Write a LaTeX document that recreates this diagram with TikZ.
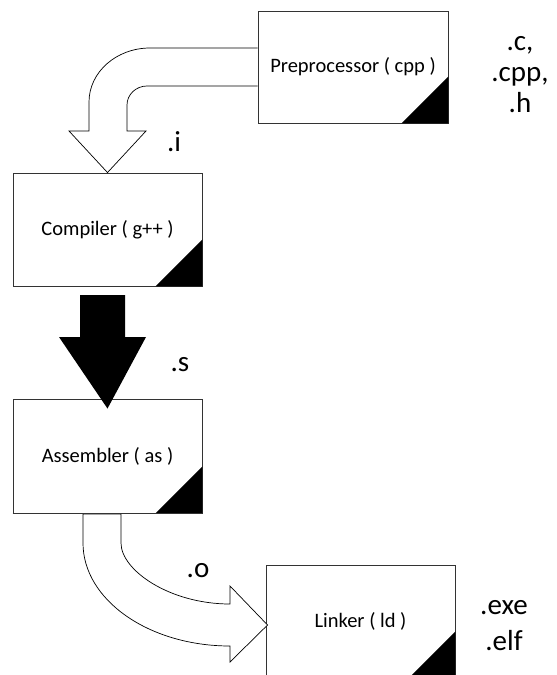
\documentclass[tikz,border=0pt]{standalone}
\usepackage{fontspec}
\setmainfont{Carlito}
\usetikzlibrary{calc}
\begin{document}
\begin{tikzpicture}[x=1pt,y=-1pt,
  stage/.style={draw=black!80,line width=0.9pt,fill=white,minimum width=189pt,minimum height=113pt,inner sep=0pt,font=\fontsize{20.5}{24}\selectfont},
  corner/.style={fill=black},
  hollow/.style={draw=black,line width=0.7pt,fill=white,line join=miter},
  ext/.style={font=\fontsize{29}{33}\selectfont,anchor=base,inner sep=0pt}]
\useasboundingbox (0,0) rectangle (557,675);
% nodes
\node[stage,minimum width=190pt,minimum height=112pt] (pre) at (353,67) {Preprocessor ( cpp )};
\node[stage] (comp) at (107.5,229.5) {Compiler ( g++ )};
\node[stage,minimum height=114pt] (asm) at (107.5,456) {Assembler ( as )};
\node[stage] (link) at (360.5,621.5) {Linker ( ld )};
% corner triangles
\foreach \n in {pre,comp,asm,link}
  \fill[corner] (\n.south east) -- ++(-47,0) -- ++(47,-47) -- cycle;
% arrow pre -> comp (hollow, bent)
\draw[hollow] (pre.west |- 0,48) -- (150,48)
  .. controls (116.3,48) and (89,72.2) .. (89,102) -- (89,131) -- (69,131)
  -- (comp.north) -- (146,131) -- (127,131) -- (127,105)
  .. controls (127,94.5) and (136,86) .. (147,86) -- (pre.west |- 0,86);
% arrow comp -> asm (solid)
\fill[black] (80,295) -- (125,295) -- (125,337) -- (146,337) -- ([yshift=-10pt]asm.north)
  -- (59,337) -- (80,337) -- cycle;
% arrow asm -> link (hollow, curved)
\coordinate (tipL) at ([xshift=2pt]link.west |- 0,625);
\draw[hollow] (83,514) -- (83,543)
  .. controls (83,599.9) and (148.9,646) .. (230,646) -- (230,662) -- (tipL)
  -- (230,586) -- (230,604)
  .. controls (169.8,604) and (121,570.3) .. (121,543) -- (121,514) -- cycle;
\draw[draw=black!80,line width=0.9pt] (asm.south west) -- (asm.south east);
% labels
\node[ext] (li) at (174,151) {.i};
\node[ext] (ls) at (180,371) {.s};
\node[ext] (lo) at (198,577) {.o};
\node[ext] (lc) at (520,50) {.c,};
\node[ext] (lcpp) at (520,81) {.cpp,};
\node[ext] (lh) at (520,112) {.h};
\node[ext] (lexe) at (504,614) {.exe};
\node[ext] (lelf) at (504,650) {.elf};
\end{tikzpicture}
\end{document}
